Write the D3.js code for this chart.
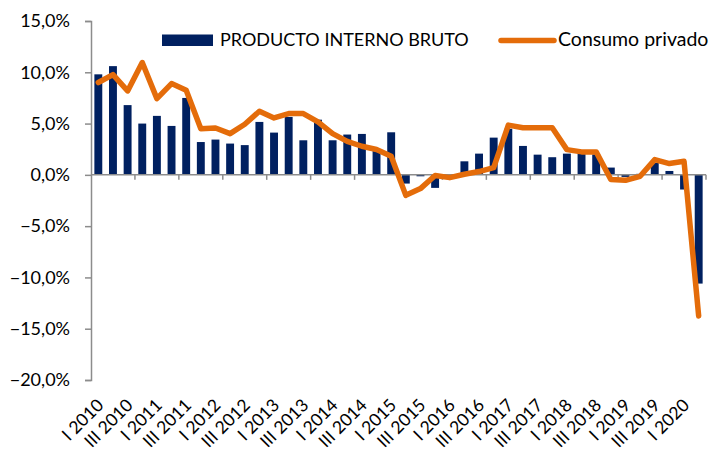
<!DOCTYPE html>
<html>
<head>
<meta charset="utf-8">
<script src="https://cdn.jsdelivr.net/npm/d3@7"></script>
<style>
  html, body { margin: 0; padding: 0; background: #fff; }
  svg text { font-family: Lato, "Open Sans", sans-serif; fill: #000; }
</style>
</head>
<body>
<svg id="chart" width="713" height="453"></svg>
<script>
const quarters = [
  "I 2010","II 2010","III 2010","IV 2010",
  "I 2011","II 2011","III 2011","IV 2011",
  "I 2012","II 2012","III 2012","IV 2012",
  "I 2013","II 2013","III 2013","IV 2013",
  "I 2014","II 2014","III 2014","IV 2014",
  "I 2015","II 2015","III 2015","IV 2015",
  "I 2016","II 2016","III 2016","IV 2016",
  "I 2017","II 2017","III 2017","IV 2017",
  "I 2018","II 2018","III 2018","IV 2018",
  "I 2019","II 2019","III 2019","IV 2019",
  "I 2020","II 2020"
];
const pib = [
  9.8, 10.6, 6.8, 5.0,
  5.75, 4.77, 7.5, 3.2,
  3.44, 3.05, 2.9, 5.16,
  4.12, 5.65, 3.37, 5.38,
  3.37, 3.93, 3.99, 2.5,
  4.15, -0.85, -0.14, -1.27,
  -0.1, 1.32, 2.07, 3.63,
  4.5, 2.82, 1.97, 1.72,
  2.07, 2.1, 2.0, 0.71,
  -0.2, 0.1, 1.16, 0.38,
  -1.43, -10.6
];
const consumo = [
  9.0, 9.77, 8.18, 10.95,
  7.43, 8.9, 8.25, 4.5,
  4.57, 4.02, 4.93, 6.2,
  5.55, 5.97, 5.97, 5.16,
  4.02, 3.27, 2.79, 2.47,
  1.81, -2.0, -1.34, -0.06,
  -0.27, 0.06, 0.32, 0.71,
  4.85, 4.6, 4.6, 4.6,
  2.46, 2.24, 2.24, -0.46,
  -0.53, -0.14, 1.49, 1.1,
  1.32, -13.75
];
const yTicks = [15, 10, 5, 0, -5, -10, -15, -20];
const seriesNames = ["PRODUCTO INTERNO BRUTO", "Consumo privado"];

const colors = { bar: "#002060", line: "#E46C0A", axis: "#8c8c8c" };

const svg = d3.select("#chart");
const x0 = 91, x1 = 706, yTop = 21, yBot = 380;

const x = d3.scaleBand().domain(quarters).range([x0, x1]).paddingInner(0.46).paddingOuter(0.23);
const y = d3.scaleLinear().domain([-20, 15]).range([yBot, yTop]);
const step = x.step();
const cx = q => x(q) + x.bandwidth() / 2;

// Bars
svg.append("g").selectAll("rect").data(quarters).join("rect")
  .attr("x", q => x(q))
  .attr("width", x.bandwidth())
  .attr("y", (q, i) => y(Math.max(0, pib[i])))
  .attr("height", (q, i) => Math.abs(y(pib[i]) - y(0)))
  .attr("fill", colors.bar);

// Y axis
const yAxis = d3.axisLeft(y).tickValues(yTicks).tickSize(6)
  .tickFormat(d => d3.format(".1f")(d).replace(".", ",") + "%");
const gy = svg.append("g").attr("transform", `translate(${x0},0)`).call(yAxis);
gy.select(".domain").attr("stroke", colors.axis).attr("stroke-width", 1.5);
gy.selectAll(".tick line").attr("stroke", colors.axis).attr("stroke-width", 1.5);
gy.selectAll(".tick text").attr("x", -21).style("font-size", "18px").style("font-family", "Lato");

// X axis at zero
const tickIdx = d3.range(3, 43, 3);
const gx = svg.append("g");
gx.append("line").attr("x1", x0).attr("x2", x1).attr("y1", y(0)).attr("y2", y(0))
  .attr("stroke", colors.axis).attr("stroke-width", 1.5);
gx.selectAll("line.t").data(tickIdx).join("line").attr("class", "t")
  .attr("x1", k => x0 + k * step).attr("x2", k => x0 + k * step)
  .attr("y1", y(0)).attr("y2", y(0) + 5)
  .attr("stroke", colors.axis).attr("stroke-width", 1.5);

// X labels
const labelQ = quarters.filter((q, i) => i % 2 === 0);
svg.append("g").selectAll("text").data(labelQ).join("text")
  .attr("transform", q => `translate(${cx(q) + 2},${yBot + 22}) rotate(-45)`)
  .attr("text-anchor", "end")
  .attr("dy", "0.35em")
  .style("font-size", "17.5px")
  .text(q => q);

// Line
const line = d3.line().x((d, i) => cx(quarters[i])).y(d => y(d)).curve(d3.curveLinear);
svg.append("path").datum(consumo)
  .attr("d", line)
  .attr("fill", "none")
  .attr("stroke", colors.line)
  .attr("stroke-width", 5.5)
  .attr("stroke-linejoin", "round")
  .attr("stroke-linecap", "round");

// Legend
const lg = svg.append("g");
lg.append("rect").attr("x", 162).attr("y", 34.5).attr("width", 51).attr("height", 11.5).attr("fill", colors.bar);
lg.append("text").attr("x", 220).attr("y", 46).style("font-size", "18px").text(seriesNames[0]);
lg.append("line").attr("x1", 501).attr("x2", 554).attr("y1", 40.5).attr("y2", 40.5)
  .attr("stroke", colors.line).attr("stroke-width", 5.5).attr("stroke-linecap", "round");
lg.append("text").attr("x", 558).attr("y", 46).style("font-size", "19.5px").text(seriesNames[1]);
</script>
</body>
</html>
